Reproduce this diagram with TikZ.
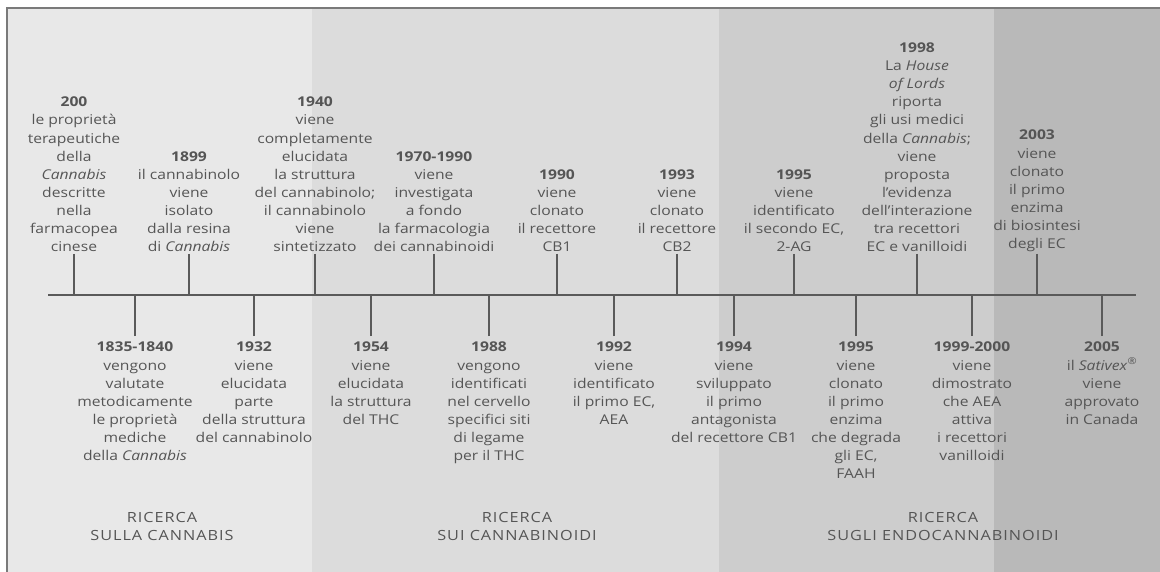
\documentclass[tikz,border=0pt]{standalone}
\usepackage{fontspec}
\setmainfont{Open Sans}[FakeStretch=1.16]
\usepackage{tikz}
\usetikzlibrary{positioning}
\definecolor{cbInk}{HTML}{555555}
\definecolor{cbRule}{HTML}{5A5A5A}
\definecolor{cbFrame}{HTML}{7A7A7A}
\definecolor{cbBandA}{HTML}{E8E8E8}
\definecolor{cbBandB}{HTML}{DCDCDC}
\definecolor{cbBandC}{HTML}{CDCDCD}
\definecolor{cbBandD}{HTML}{B9B9B9}
\newcommand{\yr}[1]{\textbf{#1}}

\begin{document}
\begin{tikzpicture}[x=1pt, y=-1pt,
  event/.style={align=center, inner sep=2pt, text=cbInk,
    font=\fontsize{13.5}{18.1}\selectfont},
  up/.style={event, anchor=south},
  down/.style={event, anchor=north, inner ysep=6pt},
  era/.style={align=center, text=cbInk,
    font=\fontsize{14}{18}\selectfont\addfontfeature{LetterSpace=7}},
  tick/.style={cbRule, line width=1.5pt},
  axis/.style={cbRule, line width=2pt}]
  \useasboundingbox (0,0) rectangle (1160,572);
  \fill[cbBandA] (7,8) rectangle (312,572);
  \fill[cbBandB] (312,8) rectangle (719,572);
  \fill[cbBandC] (719,8) rectangle (994,572);
  \fill[cbBandD] (994,8) rectangle (1160,572);
  \draw[cbFrame, line width=1.6pt] (7,572) -- (7,8) -- (1160,8);
  \coordinate (axL) at (48,295);
  \coordinate (axR) at (1136,295);
  \draw[axis] (axL) -- (axR);
  \node[up] (t1) at (74,254)   {\yr{200}\\le proprietà\\terapeutiche\\della\\\emph{Cannabis}\\descritte\\nella\\farmacopea\\cinese};
  \node[up] (t2) at (189,254)  {\yr{1899}\\il cannabinolo\\viene\\isolato\\dalla resina\\di \emph{Cannabis}};
  \node[up] (t3) at (315,254)  {\yr{1940}\\viene\\completamente\\elucidata\\la struttura\\del cannabinolo;\\il cannabinolo\\viene\\sintetizzato};
  \node[up] (t4) at (434,254)  {\yr{1970-1990}\\viene\\investigata\\a fondo\\la farmacologia\\dei cannabinoidi};
  \node[up] (t5) at (557,254)  {\yr{1990}\\viene\\clonato\\il recettore\\CB1};
  \node[up] (t6) at (677,254)  {\yr{1993}\\viene\\clonato\\il recettore\\CB2};
  \node[up] (t7) at (794,254)  {\yr{1995}\\viene\\identificato\\il secondo EC,\\2-AG};
  \node[up] (t8) at (917,254)  {\yr{1998}\\La \emph{House}\\\emph{of Lords}\\riporta\\gli usi medici\\della \emph{Cannabis};\\viene\\proposta\\l’evidenza\\dell’interazione\\tra recettori\\EC e vanilloidi};
  \node[up] (t9) at (1037,254) {\yr{2003}\\viene\\clonato\\il primo\\enzima\\di biosintesi\\degli EC};
  \node[down] (b1) at (135,336)  {\yr{1835-1840}\\vengono\\valutate\\metodicamente\\le proprietà\\mediche\\della \emph{Cannabis}};
  \node[down] (b2) at (254,336)  {\yr{1932}\\viene\\elucidata\\parte\\della struttura\\del cannabinolo};
  \node[down] (b3) at (371,336)  {\yr{1954}\\viene\\elucidata\\la struttura\\del THC};
  \node[down] (b4) at (489,336)  {\yr{1988}\\vengono\\identificati\\nel cervello\\specifici siti\\di legame\\per il THC};
  \node[down] (b5) at (614,336)  {\yr{1992}\\viene\\identificato\\il primo EC,\\AEA};
  \node[down] (b6) at (734,336)  {\yr{1994}\\viene\\sviluppato\\il primo\\antagonista\\del recettore CB1};
  \node[down] (b7) at (856,336)  {\yr{1995}\\viene\\clonato\\il primo\\enzima\\che degrada\\gli EC,\\FAAH};
  \node[down] (b8) at (972,336)  {\yr{1999-2000}\\viene\\dimostrato\\che AEA\\attiva\\i recettori\\vanilloidi};
  \node[down] (b9) at (1102,336) {\yr{2005}\\il \emph{Sativex}\textsuperscript{®}\\viene\\approvato\\in Canada};
  \foreach \n in {t1,t2,t3,t4,t5,t6,t7,t8,t9}
    \draw[tick] (\n.south) -- (\n.south |- axL);
  \foreach \n in {b1,b2,b3,b4,b5,b6,b7,b8,b9}
    \draw[tick] (\n.north) -- (\n.north |- axL);
  \node[era] (e1) at (162,526) {RICERCA\\SULLA CANNABIS};
  \node[era] (e2) at (517,526) {RICERCA\\SUI CANNABINOIDI};
  \node[era] (e3) at (943,526) {RICERCA\\SUGLI ENDOCANNABINOIDI};
\end{tikzpicture}
\end{document}
